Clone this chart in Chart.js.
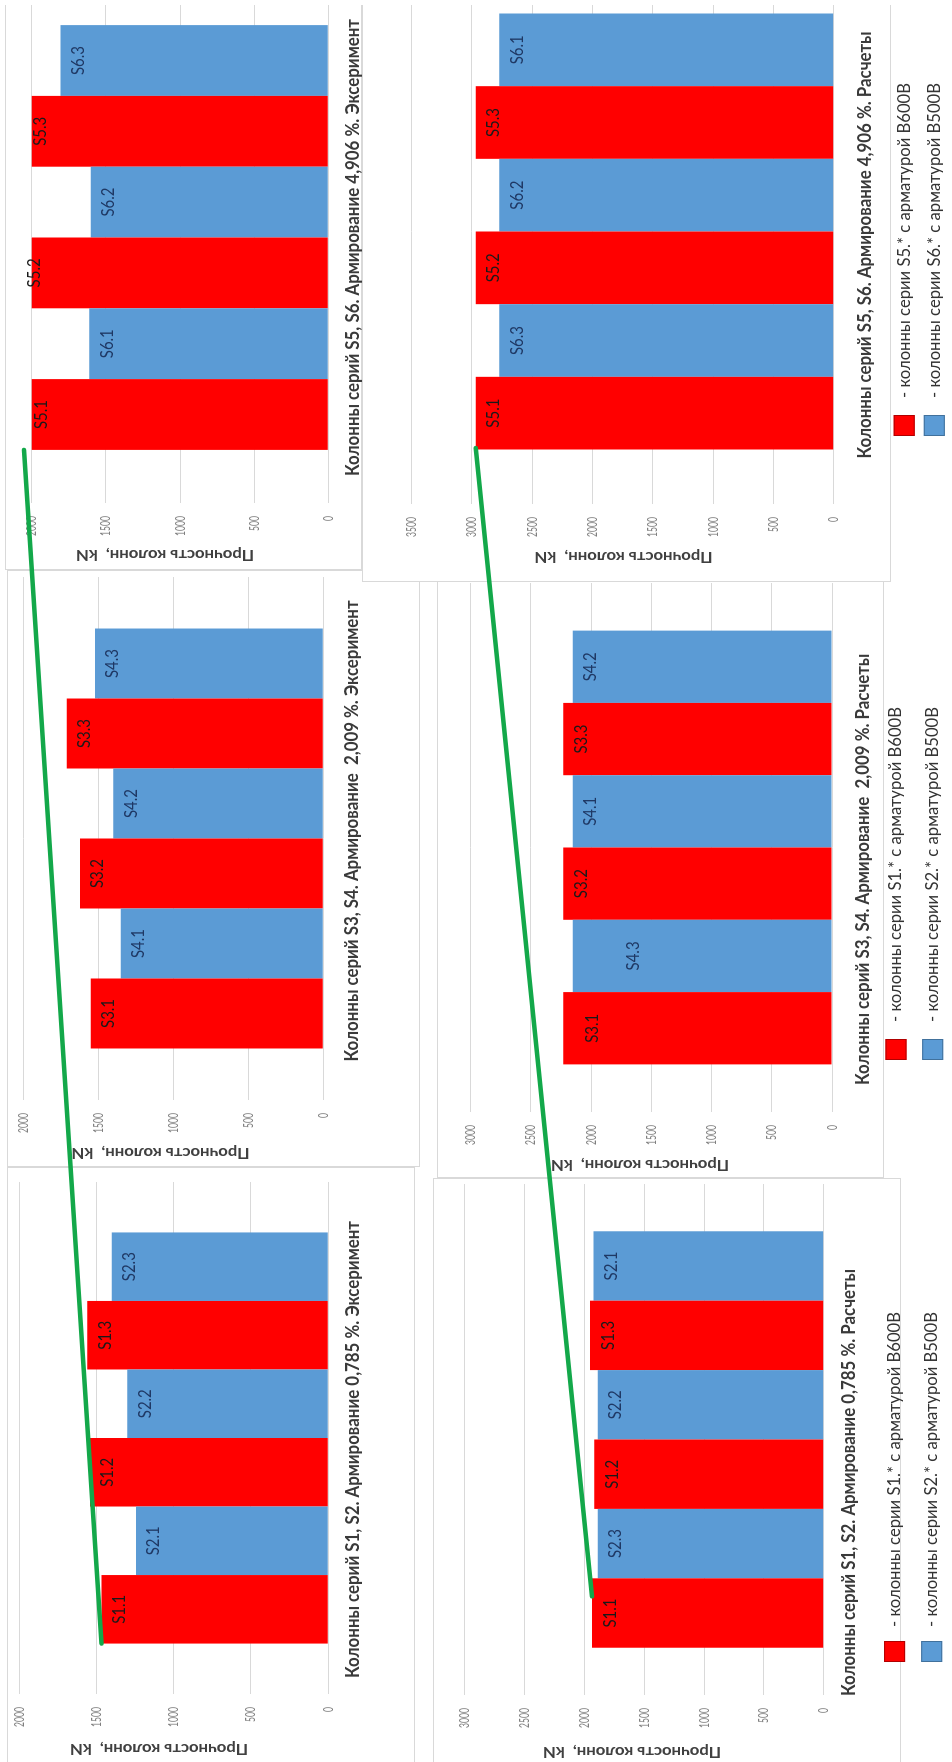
<!DOCTYPE html>
<html>
<head>
<meta charset="utf-8">
<title>Прочность колонн</title>
<script src="https://cdn.jsdelivr.net/npm/chart.js@4.4.1/dist/chart.umd.min.js"></script>
<style>
  html, body { margin: 0; padding: 0; background: #fff; overflow: hidden; }
  body { width: 952px; height: 1762px; position: relative; }
  /* the sheet is laid out in landscape and turned a quarter turn */
  #stage {
    position: absolute; left: 0; top: 0;
    width: 1762px; height: 952px;
    transform-origin: 0 0;
    transform: translate(0, 1762px) rotate(-90deg);
    overflow: hidden; background: #fff;
  }
  .panel { position: absolute; box-sizing: border-box; border: 1px solid #d9d9d9; background: #fff; }
  #stage canvas { position: absolute; display: block; }
  .edge { position: absolute; background: #fff; }
</style>
</head>
<body>
<div id="stage"></div>
<script>
// ---------- data ----------
const colsS12exp  = ['S1.1', 'S2.1', 'S1.2', 'S2.2', 'S1.3', 'S2.3'];
const loadS12exp  = [1466, 1244, 1541, 1300, 1558, 1401];
const colsS12calc = ['S1.1', 'S2.3', 'S1.2', 'S2.2', 'S1.3', 'S2.1'];
const loadS12calc = [1935, 1888, 1916, 1888, 1952, 1924];

const colsS34exp  = ['S3.1', 'S4.1', 'S3.2', 'S4.2', 'S3.3', 'S4.3'];
const loadS34exp  = [1551, 1351, 1622, 1400, 1711, 1522];
const colsS34calc = ['S3.1', 'S4.3', 'S3.2', 'S4.1', 'S3.3', 'S4.2'];
const loadS34calc = [2230, 2152, 2230, 2152, 2230, 2152];

const colsS56exp  = ['S5.1', 'S6.1', 'S5.2', 'S6.2', 'S5.3', 'S6.3'];
const loadS56exp  = [2052, 1612, 2101, 1602, 2063, 1805];
const colsS56calc = ['S5.1', 'S6.3', 'S5.2', 'S6.2', 'S5.3', 'S6.1'];
const loadS56calc = [2968, 2773, 2968, 2773, 2968, 2773];

const ticks2000 = [0, 500, 1000, 1500, 2000];
const ticks3000 = [0, 500, 1000, 1500, 2000, 2500, 3000];
const ticks3500 = [0, 500, 1000, 1500, 2000, 2500, 3000, 3500];

const titleS12exp  = 'Колонны серий S1, S2. Армирование 0,785 %. Эксеримент';
const titleS12calc = 'Колонны серий S1, S2. Армирование 0,785 %. Расчеты';
const titleS34exp  = 'Колонны серий S3, S4. Армирование  2,009 %. Эксеримент';
const titleS34calc = 'Колонны серий S3, S4. Армирование  2,009 %. Расчеты';
const titleS56exp  = 'Колонны серий S5, S6. Армирование 4,906 %. Эксеримент';
const titleS56calc = 'Колонны серий S5, S6. Армирование 4,906 %. Расчеты';
const axisTitle = 'Прочность колонн,  kN';

const legendS12 = ['- колонны серии S1.* с арматурой B600B', '- колонны серии S2.* с арматурой B500B'];
const legendS56 = ['- колонны серии S5.* с арматурой B600B', '- колонны серии S6.* с арматурой B500B'];

// ---------- styles ----------
const RED = '#ff0000';
const BLUE = '#5b9bd5';
const GRID = '#d9d9d9';
const FACE = 'Lato, "Open Sans", "Liberation Sans", sans-serif';

const mctx = document.createElement('canvas').getContext('2d');
function widthOf(font, s) { mctx.font = font; return mctx.measureText(s).width; }

const fTitle = 'bold 18px ' + FACE;
const fAxis = 'bold 16px ' + FACE;
const fTick = '14px ' + FACE;
const fBar = '17px ' + FACE;
const fLegend = '17px ' + FACE;
const sxTitle = 457 / widthOf(fTitle, titleS12exp);
const sxAxis = 178 / widthOf(fAxis, axisTitle);
const sxTick = 20 / widthOf(fTick, '2000');
const sxBar = 29 / widthOf(fBar, 'S1.1');
const sxLegend = 315 / widthOf(fLegend, legendS12[0]);

function isB600(col) { return parseInt(col.charAt(1), 10) % 2 === 1; }

function putText(ctx, str, x, y, font, color, sx, align, angle) {
  ctx.save();
  ctx.translate(x, y);
  if (angle) ctx.rotate(angle);
  ctx.scale(sx, 1);
  ctx.font = font;
  ctx.fillStyle = color;
  ctx.textAlign = align;
  ctx.textBaseline = 'middle';
  ctx.fillText(str, 0, 0);
  ctx.restore();
}

// ---------- panel layout (landscape sheet coordinates) ----------
// box: frame [x, y, w, h]; area: plot [left, top, right, bottom]
const panels = [
  { cols: colsS12exp, vals: loadS12exp, ticks: ticks2000, title: titleS12exp,
    box: [-5, 7, 600, 408], area: [68, 19, 580, 328.3], pct: 0.803,
    titlePos: [312.5, 353], axisPos: [13, 159] },
  { cols: colsS12calc, vals: loadS12calc, ticks: ticks3000, title: titleS12calc,
    box: [-5, 433, 589, 468], area: [67, 464.6, 578, 823.7], pct: 0.815,
    titlePos: [279.5, 849], axisPos: [10, 632] },
  { cols: colsS34exp, vals: loadS34exp, ticks: ticks2000, title: titleS34exp,
    box: [595, 7, 597, 413], area: [662, 23.3, 1185, 323.3], pct: 0.803,
    titlePos: [931, 351.7], axisPos: [609, 160.5] },
  { cols: colsS34calc, vals: loadS34calc, ticks: ticks3000, title: titleS34calc,
    box: [584, 437, 598, 447], area: [650, 470.5, 1179, 832], pct: 0.82,
    titlePos: [892.7, 862.7], axisPos: [597, 640], drops: { 0: 29, 1: 61 } },
  { cols: colsS56exp, vals: loadS56exp, ticks: ticks2000, title: titleS56exp,
    box: [1192, 5, 618, 357], area: [1259, 31.7, 1790, 328.3], pct: 0.80,
    titlePos: [1514.5, 353.3], axisPos: [1207, 165] },
  { cols: colsS56calc, vals: loadS56calc, ticks: ticks3500, title: titleS56calc,
    box: [1180, 362, 630, 529], area: [1258, 411.6, 1803, 833.7], pct: 0.80,
    titlePos: [1517, 865.5], axisPos: [1205, 623.5] }
];

const legends = [
  { texts: legendS12, boxX: 100, rows: [894.6, 931.7], textX: 135 },
  { texts: legendS12, boxX: 702, rows: [896, 932.7], textX: 740 },
  { texts: legendS56, boxX: 1326, rows: [904.2, 934.3], textX: 1364 }
];

// connecting guide lines: [panel, column, fraction across the column top]
const guides = [
  { from: [0, 0, 0.0], to: [4, 0, 0.0] },
  { from: [1, 0, 0.74], to: [5, 0, 0.02] }
];

// ---------- per-panel text drawing ----------
const cfgOf = new Map();
const panelText = {
  id: 'panelText',
  afterDatasetsDraw(chart) {
    const cfg = cfgOf.get(chart.canvas);
    const ctx = chart.ctx;
    chart.data.datasets.forEach((ds, i) => {
      const el = chart.getDatasetMeta(i).data[0];
      const drop = (cfg.drops && cfg.drops[i]) || 18;
      const col = cfg.cols[i];
      putText(ctx, col, el.x, el.y + drop, fBar, isB600(col) ? '#1a1a1a' : '#1f3864', sxBar, 'center');
    });
  },
  afterDraw(chart) {
    const cfg = cfgOf.get(chart.canvas);
    const ctx = chart.ctx;
    const ys = chart.scales.y;
    const ox = cfg.ox, oy = cfg.oy;
    ys.ticks.forEach(t => {
      putText(ctx, String(t.value), chart.chartArea.left - 13, ys.getPixelForValue(t.value),
        fTick, '#7f7f7f', sxTick, 'right');
    });
    putText(ctx, cfg.title, cfg.titlePos[0] - ox, cfg.titlePos[1] - oy, fTitle, '#3a3a3a', sxTitle, 'center');
    putText(ctx, axisTitle, cfg.axisPos[0] - ox, cfg.axisPos[1] - oy, fAxis, '#404040', sxAxis, 'center', -Math.PI / 2);
  }
};

// ---------- build ----------
const stage = document.getElementById('stage');
const instances = [];

panels.forEach(cfg => {
  const frame = document.createElement('div');
  frame.className = 'panel';
  frame.style.left = cfg.box[0] + 'px';
  frame.style.top = cfg.box[1] + 'px';
  frame.style.width = cfg.box[2] + 'px';
  frame.style.height = cfg.box[3] + 'px';
  stage.appendChild(frame);
});

panels.forEach(cfg => {
  const cx = cfg.box[0] - 12, cy = cfg.box[1] - 12;
  const cw = cfg.box[2] + 24, ch = cfg.box[3] + 24;
  cfg.ox = cx; cfg.oy = cy;
  const cv = document.createElement('canvas');
  cv.width = cw; cv.height = ch;
  cv.style.left = cx + 'px'; cv.style.top = cy + 'px';
  cv.style.width = cw + 'px'; cv.style.height = ch + 'px';
  stage.appendChild(cv);
  cfgOf.set(cv, cfg);

  const chart = new Chart(cv, {
    type: 'bar',
    data: {
      labels: [''],
      datasets: cfg.cols.map((col, i) => ({
        label: col,
        data: [cfg.vals[i]],
        backgroundColor: isB600(col) ? RED : BLUE,
        borderWidth: 0,
        categoryPercentage: cfg.pct,
        barPercentage: 1
      }))
    },
    options: {
      responsive: false,
      animation: false,
      events: [],
      devicePixelRatio: 1,
      layout: {
        padding: {
          left: cfg.area[0] - cx,
          top: cfg.area[1] - cy,
          right: cx + cw - cfg.area[2],
          bottom: cy + ch - cfg.area[3]
        }
      },
      plugins: {
        legend: { display: false },
        tooltip: { enabled: false },
        title: { display: false }
      },
      scales: {
        x: { display: false },
        y: {
          min: cfg.ticks[0],
          max: cfg.ticks[cfg.ticks.length - 1],
          ticks: { display: false, stepSize: 500 },
          grid: { color: GRID, lineWidth: 1, drawTicks: false },
          border: { display: false },
          afterFit(scale) { scale.width = 0; }
        }
      }
    },
    plugins: [panelText]
  });
  instances.push(chart);
});

// thin paper margin along the far edge
const edge = document.createElement('div');
edge.className = 'edge';
edge.style.left = '1757px'; edge.style.top = '0px';
edge.style.width = '10px'; edge.style.height = '952px';
stage.appendChild(edge);

// ---------- overlay: legends and guide lines ----------
const ov = document.createElement('canvas');
ov.width = 1762; ov.height = 952;
ov.style.left = '0px'; ov.style.top = '0px';
ov.style.width = '1762px'; ov.style.height = '952px';
stage.appendChild(ov);
const octx = ov.getContext('2d');

legends.forEach(lg => {
  lg.rows.forEach((yc, r) => {
    octx.fillStyle = r === 0 ? RED : BLUE;
    octx.fillRect(lg.boxX, yc - 10.5, 21, 21);
    octx.strokeStyle = r === 0 ? '#b00000' : '#41719c';
    octx.lineWidth = 1;
    octx.strokeRect(lg.boxX + 0.5, yc - 10, 20, 20);
    putText(octx, lg.texts[r], lg.textX, yc, fLegend, '#333333', sxLegend, 'left');
  });
});

function columnTop(ref) {
  const chart = instances[ref[0]];
  const cfg = panels[ref[0]];
  const el = chart.getDatasetMeta(ref[1]).data[0];
  return [cfg.ox + el.x - el.width / 2 + ref[2] * el.width, cfg.oy + el.y];
}

octx.strokeStyle = '#13a84a';
octx.lineWidth = 4.5;
octx.lineCap = 'round';
guides.forEach(g => {
  const a = columnTop(g.from), b = columnTop(g.to);
  octx.beginPath();
  octx.moveTo(a[0], a[1]);
  octx.lineTo(b[0], b[1]);
  octx.stroke();
});
</script>
</body>
</html>
